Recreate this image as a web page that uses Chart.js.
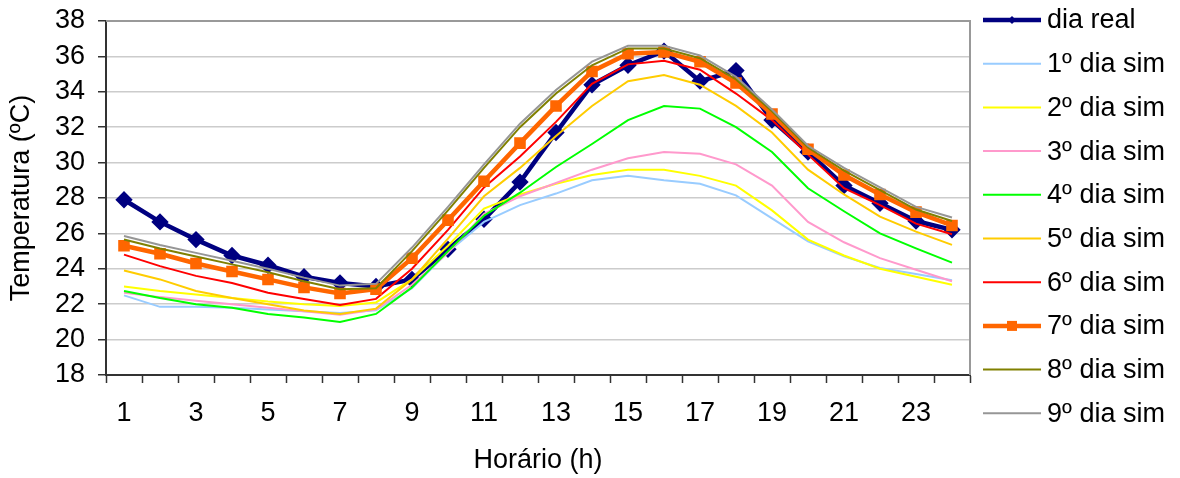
<!DOCTYPE html>
<html>
<head>
<meta charset="utf-8">
<script src="https://cdn.jsdelivr.net/npm/chart.js@4/dist/chart.umd.min.js"></script>
<style>
  html, body { margin: 0; padding: 0; background: #fff; }
  #wrap { position: relative; width: 1180px; height: 478px; }
</style>
</head>
<body>
<div id="wrap"><canvas id="c"></canvas></div>
<script>
// Hours of the day (x axis categories)
const hours = ['1','2','3','4','5','6','7','8','9','10','11','12','13','14','15','16','17','18','19','20','21','22','23','24'];

// Measured temperature (ºC)
const diaReal = [27.9, 26.65, 25.65, 24.75, 24.2, 23.55, 23.2, 23.0, 23.4, 25.1, 26.8, 28.9, 31.7, 34.4, 35.5, 36.3, 34.6, 35.2, 32.4, 30.6, 28.7, 27.7, 26.7, 26.2];

// Simulated days (ºC)
const sim1 = [22.5, 21.85, 21.85, 21.8, 21.7, 21.6, 21.5, 21.65, 22.9, 24.95, 26.65, 27.6, 28.25, 29.0, 29.25, 29.0, 28.8, 28.15, 26.85, 25.55, 24.7, 24.05, 23.7, 23.35];
const sim2 = [23.0, 22.75, 22.55, 22.35, 22.15, 22.0, 21.9, 22.1, 23.4, 25.3, 27.4, 28.2, 28.8, 29.3, 29.6, 29.6, 29.25, 28.7, 27.3, 25.65, 24.75, 24.0, 23.55, 23.1];
const sim3 = [22.65, 22.4, 22.2, 22.0, 21.8, 21.6, 21.4, 21.7, 23.1, 24.9, 27.1, 28.1, 28.85, 29.6, 30.25, 30.6, 30.5, 29.9, 28.7, 26.65, 25.5, 24.6, 23.95, 23.3];
const sim4 = [22.75, 22.35, 22.0, 21.8, 21.45, 21.25, 21.0, 21.45, 22.95, 25.0, 27.0, 28.3, 29.75, 31.05, 32.4, 33.2, 33.05, 32.0, 30.6, 28.55, 27.25, 26.0, 25.15, 24.35];
const sim5 = [23.9, 23.4, 22.75, 22.35, 22.0, 21.65, 21.45, 21.75, 23.4, 25.7, 28.1, 29.7, 31.5, 33.2, 34.6, 34.95, 34.4, 33.2, 31.7, 29.6, 28.2, 26.95, 26.1, 25.35];
const sim6 = [24.8, 24.15, 23.6, 23.2, 22.65, 22.3, 21.95, 22.3, 24.0, 26.2, 28.6, 30.35, 32.3, 34.45, 35.55, 35.75, 35.25, 33.9, 32.4, 30.45, 28.55, 27.6, 26.55, 25.95];
const sim7 = [25.3, 24.85, 24.3, 23.85, 23.4, 22.95, 22.6, 22.85, 24.6, 26.75, 28.95, 31.1, 33.2, 35.15, 36.15, 36.25, 35.7, 34.5, 32.75, 30.75, 29.3, 28.2, 27.2, 26.45];
const sim8 = [25.65, 25.15, 24.7, 24.25, 23.8, 23.3, 22.85, 22.9, 25.0, 27.3, 29.7, 32.0, 33.9, 35.5, 36.45, 36.45, 35.9, 34.7, 32.9, 30.85, 29.55, 28.45, 27.35, 26.7];
const sim9 = [25.85, 25.35, 24.9, 24.45, 24.0, 23.5, 23.05, 23.15, 25.2, 27.5, 29.9, 32.2, 34.1, 35.7, 36.6, 36.6, 36.05, 34.85, 33.0, 30.95, 29.7, 28.6, 27.5, 26.9];

// Temperature axis tick values
const tempTicks = [18, 20, 22, 24, 26, 28, 30, 32, 34, 36, 38];

const seriesNames = ['dia real', '1º dia sim', '2º dia sim', '3º dia sim', '4º dia sim', '5º dia sim', '6º dia sim', '7º dia sim', '8º dia sim', '9º dia sim'];
const seriesValues = [diaReal, sim1, sim2, sim3, sim4, sim5, sim6, sim7, sim8, sim9];
const seriesColors = ['#000080', '#99CCFF', '#FFFF00', '#FF99CC', '#00FF00', '#FFCC00', '#FF0000', '#FF6600', '#808000', '#969696'];

const FONT = '"Liberation Sans", Arial, sans-serif';
const FS = 27;

const datasets = seriesValues.map((vals, i) => {
  const ds = {
    label: seriesNames[i],
    data: vals,
    borderColor: seriesColors[i],
    backgroundColor: seriesColors[i],
    borderWidth: 2,
    pointRadius: 0,
    pointHoverRadius: 0,
    tension: 0,
    fill: false,
    order: seriesValues.length - i   // first series drawn underneath
  };
  if (i === 0) {
    ds.borderWidth = 4.5;
    ds.pointStyle = 'rectRot';
    ds.pointRadius = 5.5;
  } else if (i === 7) {
    ds.borderWidth = 4.5;
    ds.pointStyle = 'rect';
    ds.pointRadius = 5;
  }
  return ds;
});

// Plot frame (top/right in grey) and the legend drawn at the right side
const framePlugin = {
  id: 'frame',
  beforeDatasetsDraw(chart) {
    const { ctx, chartArea: a } = chart;
    ctx.save();
    ctx.strokeStyle = '#999999';
    ctx.lineWidth = 2;
    ctx.beginPath();
    ctx.moveTo(a.left, a.top);
    ctx.lineTo(a.right, a.top);
    ctx.lineTo(a.right, a.bottom);
    ctx.stroke();
    ctx.restore();
  },
  afterDraw(chart) {
    const { ctx } = chart;
    const x0 = 983, x1 = 1041, tx = 1047, y0 = 20, step = 43.7;
    ctx.save();
    ctx.font = FS + 'px ' + FONT;
    ctx.textBaseline = 'middle';
    ctx.textAlign = 'left';
    chart.data.datasets.forEach((ds, i) => {
      const y = y0 + i * step;
      ctx.strokeStyle = ds.borderColor;
      ctx.lineWidth = (i === 0 || i === 7) ? 4.5 : 2;
      ctx.beginPath();
      ctx.moveTo(x0, y);
      ctx.lineTo(x1, y);
      ctx.stroke();
      const mx = (x0 + x1) / 2;
      ctx.fillStyle = ds.borderColor;
      if (i === 0) {
        ctx.beginPath();
        ctx.moveTo(mx, y - 4); ctx.lineTo(mx + 4, y); ctx.lineTo(mx, y + 4); ctx.lineTo(mx - 4, y);
        ctx.closePath(); ctx.fill();
      } else if (i === 7) {
        ctx.fillRect(mx - 5, y - 5, 10, 10);
      }
      ctx.fillStyle = '#000';
      ctx.fillText(ds.label, tx, y + 1);
    });
    ctx.restore();
  }
};

new Chart(document.getElementById('c'), {
  type: 'line',
  data: { labels: hours, datasets },
  options: {
    responsive: true,
    maintainAspectRatio: false,
    animation: false,
    events: [],
    layout: { padding: { top: 21, right: 210, left: 0, bottom: 0 } },
    plugins: {
      legend: { display: false },
      tooltip: { enabled: false }
    },
    scales: {
      x: {
        type: 'category',
        offset: true,
        afterFit(s) {
          s.height = 103;
          s.paddingLeft = 0; s.paddingRight = 0;
        },
        grid: {
          offset: true,
          drawOnChartArea: false,
          tickLength: 8,
          tickColor: '#333',
          tickWidth: 1.5
        },
        border: { color: '#333', width: 2 },
        ticks: {
          autoSkip: false,
          maxRotation: 0,
          padding: 14,
          color: '#000',
          font: { family: FONT, size: FS },
          callback: (v, i) => (i % 2 === 0 ? hours[i] : '')
        },
        title: {
          display: true,
          text: 'Horário (h)',
          color: '#000',
          font: { family: FONT, size: FS },
          padding: { top: 0, bottom: 1 }
        }
      },
      y: {
        min: tempTicks[0],
        max: tempTicks[tempTicks.length - 1],
        afterFit(s) {
          s.width = 106;
          s.paddingTop = 0; s.paddingBottom = 0;
        },
        afterBuildTicks(s) { s.ticks = tempTicks.map(v => ({ value: v })); },
        grid: {
          color: (c) => (c.tick && c.tick.value === 38 ? '#999999' : '#cccccc'),
          lineWidth: 1.5,
          tickLength: 8,
          tickColor: '#333',
          tickWidth: 1.5
        },
        border: { color: '#333', width: 2 },
        ticks: {
          autoSkip: false,
          padding: 13,
          color: '#000',
          font: { family: FONT, size: FS }
        },
        title: {
          display: true,
          text: 'Temperatura (ºC)',
          color: '#000',
          font: { family: FONT, size: FS },
          padding: { top: 5, bottom: 0 }
        }
      }
    }
  },
  plugins: [framePlugin]
});
</script>
</body>
</html>
